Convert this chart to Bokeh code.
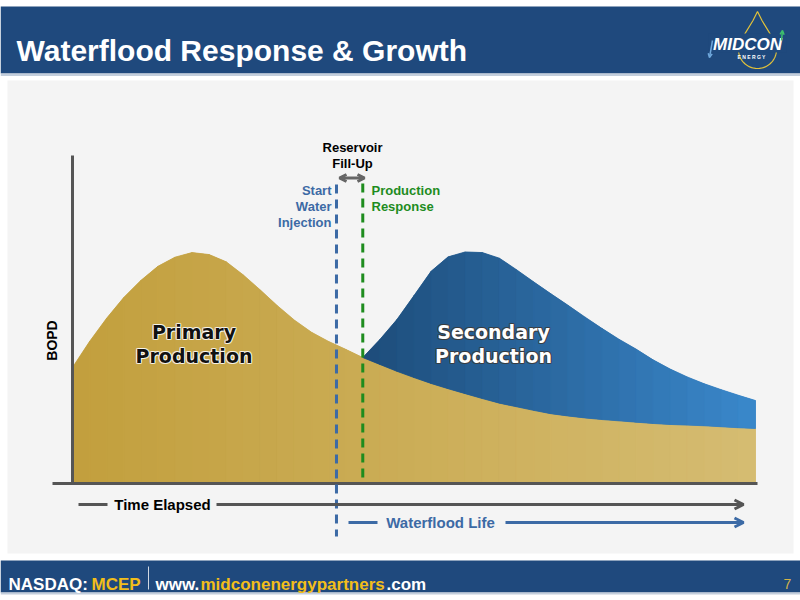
import numpy as np
from bokeh.plotting import figure
from bokeh.models import Range1d, Arrow, OpenHead
from bokeh.core.properties import value
from bokeh.embed import file_html
from bokeh.resources import INLINE

# ---------------- data ----------------
time = [0, 2.5, 5, 7.5, 10, 12.5, 15, 17.5, 20, 22.5, 25, 27.5, 30, 32.5, 35, 37.5,
        40, 42.5, 45, 47.5, 50, 52.5, 55, 57.5, 60, 62.5, 65, 67.5, 70, 72.5, 75,
        77.5, 80, 82.5, 85, 87.5, 90, 92.5, 95, 97.5, 100]
primary = [35.4, 43.3, 50.4, 56.7, 61.9, 66.2, 69.0, 70.4, 69.8, 67.6, 63.6, 59.0,
           54.2, 49.8, 46.1, 43.3, 40.9, 38.4, 36.3, 34.2, 32.3, 30.5, 28.9, 27.4,
           25.9, 24.5, 23.4, 22.3, 21.3, 20.6, 20.0, 19.5, 19.1, 18.7, 18.3, 18.0,
           17.8, 17.6, 17.3, 17.0, 16.8]
secondary = [0, 0, 0, 0, 0, 0, 0, 0, 0, 0, 0, 0, 0, 0, 0, 0, 0,
             0, 7.6, 15.8, 25.0, 34.2, 40.2, 43.2, 44.5, 44.2, 41.8, 39.2, 36.6,
             33.8, 30.8, 27.8, 24.9, 22.3, 19.4, 16.9, 14.7, 12.8, 11.3, 9.9, 8.5]
start_injection = 38.65
production_response = 42.5

title = "Waterflood Response & Growth"

# ---------------- layout ----------------
W, H = 800, 600
TX0, TX100 = 72, 755      # page px of time 0 / 100
BY0, BY100 = 483, 155     # page px of BOPD 0 / 100
tpp = (TX100 - TX0) / 100.0
bpp = (BY0 - BY100) / 100.0

p = figure(width=W, height=H, x_range=Range1d(0, W), y_range=Range1d(H, 0),
           output_backend="svg", toolbar_location=None, min_border=0,
           x_axis_location=None, y_axis_location=None,
           background_fill_color="white", border_fill_color="white",
           outline_line_color=None)
p.grid.visible = False
p.extra_x_ranges = {"t": Range1d((0 - TX0) / tpp, (W - TX0) / tpp)}
p.extra_y_ranges = {"b": Range1d((BY0 - H) / bpp, (BY0 - 0) / bpp)}

NAVY = "#1F497D"
GOLD = "#F2BE1A"
BLUE_TXT = "#3C6AA5"
GREEN = "#1E8C1E"
GRAY = "#555555"
SANS = value("Liberation Sans")

# background pieces
p.quad(left=0, right=800, top=6, bottom=73, fill_color=NAVY, line_color=None)
p.quad(left=0, right=800, top=73, bottom=75.5, fill_color="#C3CEDC", line_color=None)
p.quad(left=7, right=793, top=80, bottom=553, fill_color="#F4F4F4", line_color=None)
p.quad(left=0, right=800, top=560, bottom=592, fill_color=NAVY, line_color=None)
p.quad(left=0, right=800, top=592, bottom=594, fill_color="#C3CEDC", line_color=None)


def lerp_hex(c1, c2, f):
    a = [int(c1[i:i + 2], 16) for i in (1, 3, 5)]
    b = [int(c2[i:i + 2], 16) for i in (1, 3, 5)]
    return "#%02x%02x%02x" % tuple(int(round(a[k] + (b[k] - a[k]) * f)) for k in range(3))


t = np.array(time, float)
pr = np.array(primary, float)
se = np.array(secondary, float)
tot = pr + se

# primary area (gradient by segments)
p.varea(x=t, y1=0, y2=pr, fill_color="#CCAE58", x_range_name="t", y_range_name="b")
xs, ys, cols = [], [], []
for i in range(len(t) - 1):
    xs.append([t[i], t[i + 1], t[i + 1], t[i]])
    ys.append([0, 0, pr[i + 1], pr[i]])
    cols.append(lerp_hex("#C29F3D", "#D5BC72", (t[i] + t[i + 1]) / 200.0))
p.patches(xs=xs, ys=ys, fill_color=cols, line_color=cols, line_width=0.8,
          x_range_name="t", y_range_name="b")

# secondary area stacked on primary
mask = t >= production_response
ts, ps, ss = t[mask], pr[mask], tot[mask]
p.varea(x=ts, y1=ps, y2=ss, fill_color="#2A6AA6", x_range_name="t", y_range_name="b")
xs, ys, cols = [], [], []
span = ts[-1] - ts[0]
for i in range(len(ts) - 1):
    xs.append([ts[i], ts[i + 1], ts[i + 1], ts[i]])
    ys.append([ps[i], ps[i + 1], ss[i + 1], ss[i]])
    f = ((ts[i] + ts[i + 1]) / 2 - ts[0]) / span
    cols.append(lerp_hex("#1D4C7A", "#3A88CB", f))
p.patches(xs=xs, ys=ys, fill_color=cols, line_color=cols, line_width=0.8,
          x_range_name="t", y_range_name="b")

# axes lines
p.line(x=[TX0, TX0], y=[BY100, BY0], line_color=GRAY, line_width=3)
p.line(x=[52, 757], y=[BY0, BY0], line_color=GRAY, line_width=3)

# dashed markers
p.line(x=[start_injection, start_injection], y=[184, 536], line_color=BLUE_TXT,
       line_width=3, line_dash="9 6", x_range_name="t")
p.line(x=[production_response, production_response], y=[183, 477], line_color=GREEN,
       line_width=3, line_dash="9 6", x_range_name="t")


def txt(x, y, s, size, color="black", align="left", baseline="middle", font=SANS,
        style="bold", angle=0, xo=0, yo=0, alpha=1.0):
    p.text(x=[x], y=[y], text=[s], text_font=font, text_font_size=size,
           text_font_style=style, text_color=color, text_align=align,
           text_baseline=baseline, angle=angle, x_offset=xo, y_offset=yo,
           text_alpha=alpha)


def outlined(x, y, s, size, color, outline, oalpha):
    for dx, dy in [(-1, 0), (1, 0), (0, -1), (0, 1), (-1, -1), (1, 1), (-1, 1), (1, -1)]:
        txt(x, y, s, size, outline, "center", font=value("DejaVu Sans"), xo=dx, yo=dy,
            alpha=oalpha)
    txt(x, y, s, size, color, "center", font=value("DejaVu Sans"))


outlined(193.5, 331, "Primary", "19px", "#111111", "#FFFFFF", 0.55)
outlined(193.5, 355, "Production", "19px", "#111111", "#FFFFFF", 0.55)
outlined(493, 331, "Secondary", "19px", "#FFFFFF", "#3A3A3A", 0.6)
outlined(493, 355, "Production", "19px", "#FFFFFF", "#3A3A3A", 0.6)

# annotations
txt(352, 147, "Reservoir", "13px", align="center")
txt(352, 163, "Fill-Up", "13px", align="center")
p.add_layout(Arrow(start=OpenHead(size=7, line_width=3, line_color="#666666"),
                   end=OpenHead(size=7, line_width=3, line_color="#666666"),
                   x_start=339, y_start=177.5, x_end=364, y_end=177.5,
                   line_color="#666666", line_width=3))
for s, yy in zip(["Start", "Water", "Injection"], [190, 206, 222]):
    txt(331, yy, s, "13px", BLUE_TXT, "right")
for s, yy in zip(["Production", "Response"], [190, 206]):
    txt(371, yy, s, "13px", GREEN, "left")

txt(51, 340, "BOPD", "14px", align="center", angle=np.pi / 2)

# time arrows
p.line(x=[78, 107], y=[504, 504], line_color=GRAY, line_width=3)
p.add_layout(Arrow(end=OpenHead(size=9, line_width=3, line_color=GRAY),
                   x_start=216, y_start=504, x_end=743, y_end=504,
                   line_color=GRAY, line_width=3))
txt(162, 504, "Time Elapsed", "15px", align="center")
p.line(x=[348, 377], y=[522, 522], line_color=BLUE_TXT, line_width=3)
p.add_layout(Arrow(end=OpenHead(size=9, line_width=3, line_color=BLUE_TXT),
                   x_start=505, y_start=522, x_end=743, y_end=522,
                   line_color=BLUE_TXT, line_width=3))
txt(440, 522, "Waterflood Life", "15px", BLUE_TXT, "center")

# header
txt(16, 50, title, "30px", "white", "left", "alphabetic")

# logo
cx, cy, r = 757, 49, 19
p.line(x=[cx - r * 0.891] + [752.5, 757, 761.5] + [cx + r * 0.891],
       y=[cy - r * 0.454, 20, 11, 20, cy - r * 0.454], line_color="#E2C23A", line_width=1.2)
arc = np.linspace(-0.15 * np.pi, 1.15 * np.pi, 60)
p.line(x=list(cx + r * np.cos(arc)), y=list(cy + r * np.sin(arc)),
       line_color="#E2C23A", line_width=1.2)
p.quad(left=708, right=786, top=33, bottom=52, fill_color=NAVY, line_color=None)
txt(747, 44, "MIDCON", "17px", "white", "center", style="bold italic")
txt(751, 56, "E N E R G Y", "5px", "white", "center")
p.add_layout(Arrow(end=OpenHead(size=4, line_width=1.5, line_color="#6FA8DC"),
                   x_start=712, y_start=40, x_end=709, y_end=57,
                   line_color="#6FA8DC", line_width=1.5))
p.add_layout(Arrow(end=OpenHead(size=4, line_width=1.5, line_color="#3DBE6E"),
                   x_start=781, y_start=40, x_end=782, y_end=30,
                   line_color="#3DBE6E", line_width=1.5))

# footer
txt(8, 584, "NASDAQ:", "17px", "white", "left", "alphabetic")
txt(91, 584, "MCEP", "17px", GOLD, "left", "alphabetic")
p.line(x=[148, 148], y=[566, 589], line_color="#D0D8E2", line_width=1)
txt(155, 584, "www.", "17px", "white", "left", "alphabetic")
txt(200, 584, "midconenergypartners", "17px", GOLD, "left", "alphabetic")
txt(386, 584, ".com", "17px", "white", "left", "alphabetic")
txt(787, 583, "7", "14px", "#D4B44A", "center", "alphabetic", style="normal")

open("out.html", "w").write(file_html(p, INLINE))
